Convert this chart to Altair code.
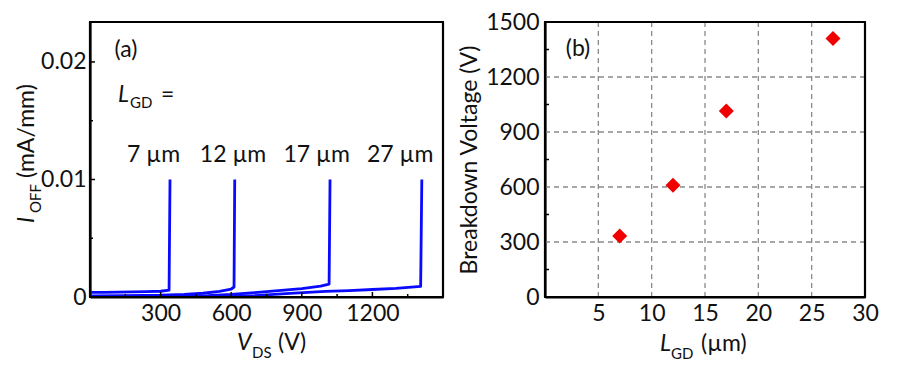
import altair as alt
import pandas as pd

FONT = "Lato"
TXT = "#111111"
BLUE = "#0a0aff"
RED = "#f00000"
FRAME = "black"
FS = 23
SUB = 15

# ---------------- Panel (a): off-state leakage vs V_DS ----------------
series_names = ["7 µm", "12 µm", "17 µm", "27 µm"]
vds_7 = [0, 60, 120, 180, 240, 300, 336, 340]
ioff_7 = [0.00040, 0.00040, 0.00041, 0.00043, 0.00045, 0.00049, 0.00058, 0.0100]
vds_12 = [0, 150, 300, 400, 480, 550, 600, 612, 615]
ioff_12 = [0.00010, 0.00012, 0.00015, 0.00022, 0.00032, 0.00048, 0.00068, 0.00085, 0.0100]
vds_17 = [0, 300, 500, 600, 700, 800, 900, 980, 1016, 1020]
ioff_17 = [0.00005, 0.00007, 0.00012, 0.00022, 0.00038, 0.00055, 0.00072, 0.00092, 0.00110, 0.0100]
vds_27 = [0, 500, 700, 850, 1000, 1100, 1200, 1300, 1405, 1410]
ioff_27 = [0.00003, 0.00005, 0.00012, 0.00030, 0.00048, 0.00055, 0.00064, 0.00074, 0.00090, 0.0100]

label_x = [270, 608, 963, 1318]
label_y = [0.0121, 0.0121, 0.0121, 0.0121]

a_x_domain = [0, 1500]
a_y_domain = [0, 0.0234]
a_xticks_major = [300, 600, 900, 1200]
a_xticks_minor = [150, 450, 750, 1050, 1350]
a_yticks_major = [0.01, 0.02]
a_yticks_minor = [0.005, 0.015]

# ---------------- Panel (b): breakdown voltage vs L_GD ----------------
lgd = [7, 12, 17, 27]
vbr = [333, 610, 1015, 1410]
b_x_domain = [0, 30]
b_y_domain = [0, 1500]
b_grid_x = [5, 10, 15, 20, 25]
b_grid_y = [300, 600, 900, 1200]
b_yticks_minor = [150, 450, 750, 1050, 1350]

WA, WB, H = 353, 320, 275

rows = []
for name, vs, cs in [(series_names[0], vds_7, ioff_7), (series_names[1], vds_12, ioff_12),
                     (series_names[2], vds_17, ioff_17), (series_names[3], vds_27, ioff_27)]:
    for i, (v, c) in enumerate(zip(vs, cs)):
        rows.append({"L": name, "V": v, "I": c, "o": i})
df_a = pd.DataFrame(rows)
df_lab = pd.DataFrame({"t": series_names, "x": label_x, "y": label_y})
one = pd.DataFrame({"k": [0]})


def txt(s, x, y, size=FS, italic=False, align="left", baseline="alphabetic", angle=0):
    return alt.Chart(one).mark_text(
        text=s, font=FONT, fontSize=size, fontStyle="italic" if italic else "normal",
        color=TXT, align=align, baseline=baseline, angle=angle
    ).encode(x=alt.value(x), y=alt.value(y))


def frame(w, h):
    # closed outline drawn as a line path around the plot area
    df = pd.DataFrame({"px": [0, w, w, 0, 0], "py": [0, 0, h, h, 0], "o": [0, 1, 2, 3, 4]})
    box = alt.Chart(df).mark_trail(color=FRAME)
    out = []
    for (x1, y1, x2, y2) in [(0, 0, w, 0), (0, h, w, h), (0, 0, 0, h), (w, 0, w, h)]:
        out.append(alt.Chart(one).mark_rule(color=FRAME, strokeWidth=2.2).encode(
            x=alt.value(x1), y=alt.value(y1), x2=alt.value(x2), y2=alt.value(y2)))
    return out


xA = alt.X("V:Q", scale=alt.Scale(domain=a_x_domain, nice=False),
           axis=alt.Axis(values=a_xticks_major, title=None, ticks=False, domain=True,
                         domainColor=FRAME, domainWidth=2.2, grid=False, labelFlush=False,
                         labelFontSize=FS, labelFont=FONT, labelColor=TXT, labelPadding=5, format="d"))
yA = alt.Y("I:Q", scale=alt.Scale(domain=a_y_domain, nice=False),
           axis=alt.Axis(values=[0, 0.01, 0.02], title=None, ticks=False, domain=True,
                         domainColor=FRAME, domainWidth=2.2, grid=False, labelFlush=False,
                         labelFontSize=FS, labelFont=FONT, labelColor=TXT, labelPadding=4, format=".2~f"))

lines = alt.Chart(df_a).mark_line(color=BLUE, strokeWidth=2.8, strokeJoin="round").encode(
    x=xA, y=yA, detail="L:N", order="o:Q")

labels = alt.Chart(df_lab).mark_text(font=FONT, fontSize=FS, color=TXT, align="center",
                                     baseline="middle").encode(x="x:Q", y="y:Q", text="t:N")

tk_x_major = alt.Chart(pd.DataFrame({"v": a_xticks_major})).mark_rule(color=FRAME, strokeWidth=1.5).encode(
    x="v:Q", y=alt.value(H), y2=alt.value(H - 5))
tk_x_minor = alt.Chart(pd.DataFrame({"v": a_xticks_minor})).mark_rule(color=FRAME, strokeWidth=1.5).encode(
    x="v:Q", y=alt.value(H), y2=alt.value(H - 3))
tk_y_major = alt.Chart(pd.DataFrame({"v": a_yticks_major})).mark_rule(color=FRAME, strokeWidth=1.5).encode(
    y="v:Q", x=alt.value(0), x2=alt.value(5))
tk_y_minor = alt.Chart(pd.DataFrame({"v": a_yticks_minor})).mark_rule(color=FRAME, strokeWidth=1.5).encode(
    y="v:Q", x=alt.value(0), x2=alt.value(3))

panel_a = alt.layer(
    lines, tk_x_major, tk_x_minor, tk_y_major, tk_y_minor, *frame(WA, H), labels,
    txt("(a)", 36, 28, align="center", baseline="middle"),
    txt("L", 28, 80, italic=True),
    txt("GD", 40, 86, size=SUB),
    txt("=", 71, 80),
    # y title: I_OFF (mA/mm)
    txt("I", -56, H - 74, italic=True, angle=270),
    txt("OFF", -49, H - 84, size=SUB, angle=270),
    txt("(mA/mm)", -56, H - 119, angle=270),
    # x title: V_DS (V)
    txt("V", 147, H + 53, italic=True),
    txt("DS", 162, H + 61, size=SUB),
    txt("(V)", 188, H + 53),
).properties(width=WA, height=H)

# ---------------- Panel (b) ----------------
df_b = pd.DataFrame({"lgd": lgd, "vbr": vbr})
xB = alt.X("lgd:Q", scale=alt.Scale(domain=b_x_domain, nice=False),
           axis=alt.Axis(values=[5, 10, 15, 20, 25, 30], title=None, ticks=False, domain=True,
                         domainColor=FRAME, domainWidth=2.2, grid=False, labelFlush=False,
                         labelFontSize=FS, labelFont=FONT, labelColor=TXT, labelPadding=5))
yB = alt.Y("vbr:Q", scale=alt.Scale(domain=b_y_domain, nice=False),
           axis=alt.Axis(values=[0, 300, 600, 900, 1200, 1500], title="Breakdown Voltage (V)",
                         ticks=False, domain=True, domainColor=FRAME, domainWidth=2.2,
                         grid=False, format="d", labelFlush=False,
                         labelFontSize=FS, labelFont=FONT, labelColor=TXT, labelPadding=6,
                         titleFontSize=FS, titleFont=FONT, titleColor=TXT, titleFontWeight="normal",
                         titlePadding=4))

pts = alt.Chart(df_b).mark_point(shape="diamond", filled=True, color=RED, size=225, opacity=1).encode(x=xB, y=yB)

grid_x = alt.Chart(pd.DataFrame({"g": b_grid_x})).mark_rule(
    color="#8a8a8a", strokeWidth=1.3, strokeDash=[5, 4]).encode(x="g:Q")
grid_y = alt.Chart(pd.DataFrame({"g": b_grid_y})).mark_rule(
    color="#8a8a8a", strokeWidth=1.3, strokeDash=[5, 4]).encode(y="g:Q")
tk_b_minor = alt.Chart(pd.DataFrame({"g": b_yticks_minor})).mark_rule(color=FRAME, strokeWidth=1.5).encode(
    y="g:Q", x=alt.value(0), x2=alt.value(4))

panel_b = alt.layer(
    pts.encode(opacity=alt.value(0)), grid_x, grid_y, tk_b_minor, *frame(WB, H), pts,
    txt("(b)", 33, 27, align="center", baseline="middle"),
    txt("L", 115, H + 54, italic=True),
    txt("GD", 126, H + 62, size=SUB),
    txt("(µm)", 156, H + 54),
).properties(width=WB, height=H)

chart = alt.hconcat(panel_a, panel_b, spacing=11).properties(
    padding={"left": 7, "top": 2, "right": 5, "bottom": 5}
).configure(font=FONT).configure_view(stroke=FRAME, strokeWidth=2)

chart.save("out.html", embed_options={"renderer": "svg", "actions": False})
